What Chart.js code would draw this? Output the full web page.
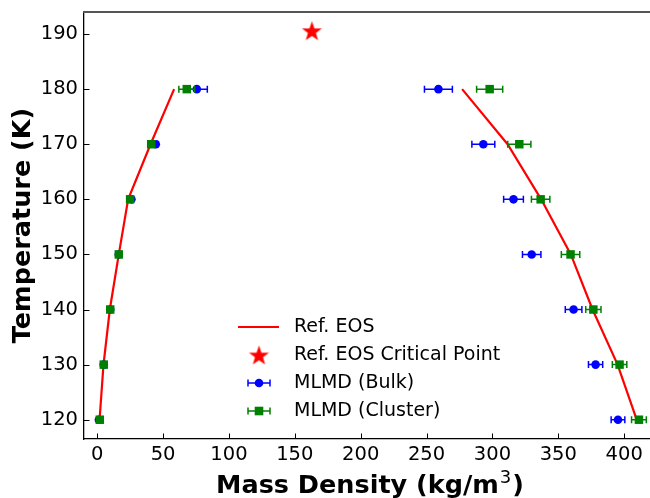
<!DOCTYPE html>
<html>
<head>
<meta charset="utf-8">
<script src="https://cdn.jsdelivr.net/npm/chart.js@4/dist/chart.umd.min.js"></script>
<style>
html, body { margin: 0; padding: 0; background: #fff; }
</style>
</head>
<body>
<canvas id="densityChart" width="650" height="498"></canvas>
<script>
// temperatures (K) shared by every series
const temps = [120, 130, 140, 150, 160, 170, 180];

// Ref. EOS coexistence curve (kg/m3)
const eosVapor = [1.8, 4.8, 9.6, 16.4, 23.5, 40.5, 58.4];
const eosLiquid = [409.5, 395, 376, 359.5, 337, 311.5, 277];
const criticalPoint = [163, 190.6]; // density, temperature

// MLMD (Bulk)
const bulkVapor = [1.3, 5, 9.9, 16.4, 26, 44.5, 75.6];
const bulkVaporErr = [0.5, 0.5, 0.7, 0.8, 1.2, 1.5, 8];
const bulkLiquid = [395.3, 378.3, 361.6, 329.8, 316, 293.1, 259];
const bulkLiquidErr = [5.2, 5.4, 6.3, 7, 7.5, 8.7, 10.6];

// MLMD (Cluster)
const clusterVapor = [2, 5, 9.9, 16.4, 25, 41, 68];
const clusterVaporErr = [0.5, 0.5, 0.6, 0.8, 1, 1.5, 6];
const clusterLiquid = [411.2, 396.5, 376.6, 359.3, 336.6, 320.4, 297.9];
const clusterLiquidErr = [5.6, 5.5, 5.8, 7, 7, 8.8, 9.9];

const xTicks = [0, 50, 100, 150, 200, 250, 300, 350, 400];
const yTicks = [120, 130, 140, 150, 160, 170, 180, 190];

const legendLabels = ['Ref. EOS', 'Ref. EOS Critical Point', 'MLMD (Bulk)', 'MLMD (Cluster)'];

Chart.defaults.font.family = 'DejaVu Sans';
Chart.defaults.color = '#000';

function pts(xs) {
  return xs.map((v, i) => ({x: v, y: temps[i]}));
}

function starImage(r, color) {
  const c = document.createElement('canvas');
  const s = Math.ceil(r * 2 + 2);
  c.width = s; c.height = s;
  const g = c.getContext('2d');
  g.fillStyle = color;
  g.beginPath();
  for (let k = 0; k < 10; k++) {
    const rad = k % 2 ? r * 0.4 : r;
    const a = -Math.PI / 2 + k * Math.PI / 5;
    g.lineTo(s / 2 + rad * Math.cos(a), s / 2 + rad * Math.sin(a) + r * 0.1);
  }
  g.closePath();
  g.fill();
  return c;
}
const star = starImage(10.5, '#ff0000');

// horizontal error bars, drawn just under each dataset's markers
const errorBars = {
  id: 'errorBars',
  beforeDatasetDraw(chart, args) {
    const ds = chart.data.datasets[args.index];
    if (!ds.errors) return;
    const xs = chart.scales.x, ys = chart.scales.y, ctx = chart.ctx;
    ctx.save();
    ctx.strokeStyle = ds.borderColor;
    ctx.lineWidth = 1.5;
    ds.data.forEach((p, i) => {
      const x0 = xs.getPixelForValue(p.x - ds.errors[i]);
      const x1 = xs.getPixelForValue(p.x + ds.errors[i]);
      const py = ys.getPixelForValue(p.y);
      ctx.beginPath();
      ctx.moveTo(x0, py); ctx.lineTo(x1, py);
      ctx.moveTo(x0, py - 3.5); ctx.lineTo(x0, py + 3.5);
      ctx.moveTo(x1, py - 3.5); ctx.lineTo(x1, py + 3.5);
      ctx.stroke();
    });
    ctx.restore();
  }
};

// inward ticks, grey top spine, x title with superscript
const frame = {
  id: 'frame',
  beforeDatasetsDraw(chart) {
    const {ctx, chartArea: a, scales} = chart;
    ctx.save();
    ctx.strokeStyle = '#000';
    ctx.lineWidth = 1;
    ctx.beginPath();
    scales.x.ticks.forEach(t => {
      const px = Math.round(scales.x.getPixelForValue(t.value)) + 0.5;
      ctx.moveTo(px, a.bottom); ctx.lineTo(px, a.bottom - 5.5);
    });
    scales.y.ticks.forEach(t => {
      const py = Math.round(scales.y.getPixelForValue(t.value)) + 0.5;
      ctx.moveTo(a.left, py); ctx.lineTo(a.left + 5.5, py);
    });
    ctx.stroke();
    ctx.restore();
  },
  afterDraw(chart) {
    const {ctx, chartArea: a} = chart;
    ctx.save();
    ctx.strokeStyle = '#555';
    ctx.lineWidth = 2;
    ctx.beginPath();
    ctx.moveTo(a.left - 1, a.top); ctx.lineTo(chart.width, a.top);
    ctx.stroke();

    const main = 'Mass Density (kg/m', sup = '3', tail = ')';
    const bold = 'bold 25.5px "DejaVu Sans"', small = '18px "DejaVu Sans"';
    ctx.font = bold;
    const wMain = ctx.measureText(main).width, wTail = ctx.measureText(tail).width;
    ctx.font = small;
    const wSup = ctx.measureText(sup).width + 2;
    let x = (a.left + chart.width) / 2 + 3 - (wMain + wSup + wTail) / 2;
    const base = 493;
    ctx.fillStyle = '#000';
    ctx.textBaseline = 'alphabetic';
    ctx.font = bold; ctx.fillText(main, x, base); x += wMain + 1;
    ctx.font = small; ctx.fillText(sup, x, base - 10); x += wSup - 1;
    ctx.font = bold; ctx.fillText(tail, x, base);
    ctx.restore();
  }
};

const legendBox = {
  id: 'legendBox',
  afterDraw(chart) {
    const ctx = chart.ctx;
    const hx = 259, tx = 294, y0 = 327, dy = 28;
    ctx.save();
    // Ref. EOS line
    ctx.strokeStyle = '#ff0000'; ctx.lineWidth = 2.2;
    ctx.beginPath(); ctx.moveTo(238, y0); ctx.lineTo(279, y0); ctx.stroke();
    // critical point star
    ctx.drawImage(star, hx - star.width / 2, y0 + dy - star.height / 2);
    // error bar handles
    [['#0000ff', 'circle'], ['#008000', 'rect']].forEach(([c, shape], k) => {
      const y = y0 + dy * (2 + k);
      ctx.strokeStyle = c; ctx.fillStyle = c; ctx.lineWidth = 1.5;
      ctx.beginPath();
      ctx.moveTo(248, y); ctx.lineTo(270, y);
      ctx.moveTo(248, y - 3.5); ctx.lineTo(248, y + 3.5);
      ctx.moveTo(270, y - 3.5); ctx.lineTo(270, y + 3.5);
      ctx.stroke();
      ctx.beginPath();
      if (shape === 'circle') ctx.arc(hx, y, 4.3, 0, Math.PI * 2);
      else ctx.rect(hx - 4.3, y - 4.3, 8.6, 8.6);
      ctx.fill();
    });
    ctx.fillStyle = '#000';
    ctx.font = '19px "DejaVu Sans"';
    ctx.textBaseline = 'middle';
    legendLabels.forEach((s, k) => ctx.fillText(s, tx, y0 + dy * k));
    ctx.restore();
  }
};

const lineStyle = {showLine: true, borderColor: '#ff0000', borderWidth: 2.2, pointRadius: 0, order: 4};

new Chart(document.getElementById('densityChart'), {
  type: 'scatter',
  data: {
    datasets: [
      Object.assign({label: 'Ref. EOS', data: pts(eosVapor)}, lineStyle),
      Object.assign({label: 'Ref. EOS liquid', data: pts(eosLiquid)}, lineStyle),
      {label: 'Ref. EOS Critical Point', data: [{x: criticalPoint[0], y: criticalPoint[1]}],
       pointStyle: star, order: 3},
      {label: 'MLMD (Bulk)', data: pts(bulkVapor).concat(pts(bulkLiquid)),
       errors: bulkVaporErr.concat(bulkLiquidErr),
       borderColor: '#0000ff', backgroundColor: '#0000ff', pointRadius: 4.3, borderWidth: 0, order: 2},
      {label: 'MLMD (Cluster)', data: pts(clusterVapor).concat(pts(clusterLiquid)),
       errors: clusterVaporErr.concat(clusterLiquidErr),
       borderColor: '#008000', backgroundColor: '#008000', pointStyle: 'rect', pointRadius: 6, borderWidth: 0, order: 1}
    ]
  },
  options: {
    responsive: false,
    animation: false,
    layout: {autoPadding: false, padding: {top: 12, right: 0, left: 0, bottom: 0}},
    plugins: {legend: {display: false}, tooltip: {enabled: false}},
    scales: {
      x: {
        type: 'linear', min: -10, max: 419.6,
        afterBuildTicks: axis => { axis.ticks = xTicks.map(v => ({value: v})); },
        afterFit: axis => { axis.height = 59; axis.paddingLeft = 0; axis.paddingRight = 0; },
        grid: {display: false, drawTicks: false},
        border: {display: true, color: '#000', width: 1.3},
        ticks: {font: {size: 19.5}, padding: 4, maxRotation: 0},
        title: {display: false}
      },
      y: {
        type: 'linear', min: 116.5, max: 194,
        afterBuildTicks: axis => { axis.ticks = yTicks.map(v => ({value: v})); },
        afterFit: axis => { axis.width = 84; axis.paddingTop = 0; axis.paddingBottom = 0; },
        grid: {display: false, drawTicks: false},
        border: {display: true, color: '#000', width: 1.3},
        ticks: {font: {size: 19.5}, padding: 6},
        title: {display: true, text: 'Temperature (K)', font: {size: 25.5, weight: 'bold'},
                padding: {top: 8, bottom: 0}}
      }
    }
  },
  plugins: [errorBars, frame, legendBox]
});
</script>
</body>
</html>
